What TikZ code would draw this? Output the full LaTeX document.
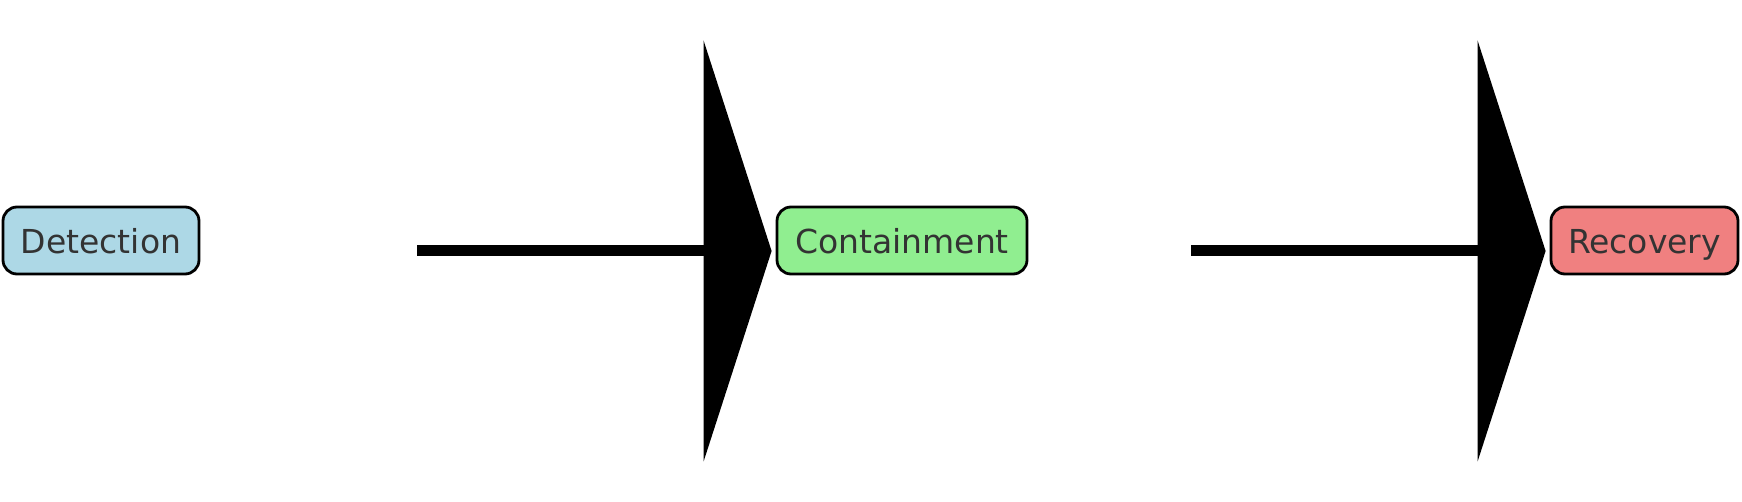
\documentclass[tikz,border=0pt]{standalone}
\usepackage{fontspec}
\setmainfont{DejaVu Sans}
\usetikzlibrary{arrows.meta}
\definecolor{txt}{HTML}{333333}
\definecolor{cblue}{HTML}{ADD8E6}
\definecolor{cgreen}{HTML}{90EE90}
\definecolor{ccoral}{HTML}{F08080}
\tikzset{
  stage/.style={draw=black, line width=1.4pt, rounded corners=7pt, inner sep=0pt,
    minimum height=33.5pt, text height=13.4pt, text depth=0pt,
    text=txt, font=\fontsize{16.5}{19}\selectfont},
  bigarrow/.style={line width=5.5pt, -{Triangle[length=34pt, width=210.5pt, line width=0pt]}},
}
\begin{document}
\begin{tikzpicture}[x=0.5pt, y=-0.5pt]
\useasboundingbox (0,0) rectangle (1742,502);
\node[stage, fill=cblue, minimum width=98pt] (det) at (101,240.5) {Detection};
\node[stage, fill=cgreen, minimum width=125pt] (con) at (902,240.5) {Containment};
\node[stage, fill=ccoral, minimum width=93.5pt] (rec) at (1644.5,240.5) {Recovery};
\draw[bigarrow, shorten <=108.5pt, shorten >=2pt] ([yshift=-5.25pt]det.east) -- ([yshift=-5.25pt]con.west);
\draw[bigarrow, shorten <=81.5pt, shorten >=2pt] ([yshift=-5.25pt]con.east) -- ([yshift=-5.25pt]rec.west);
\end{tikzpicture}
\end{document}
